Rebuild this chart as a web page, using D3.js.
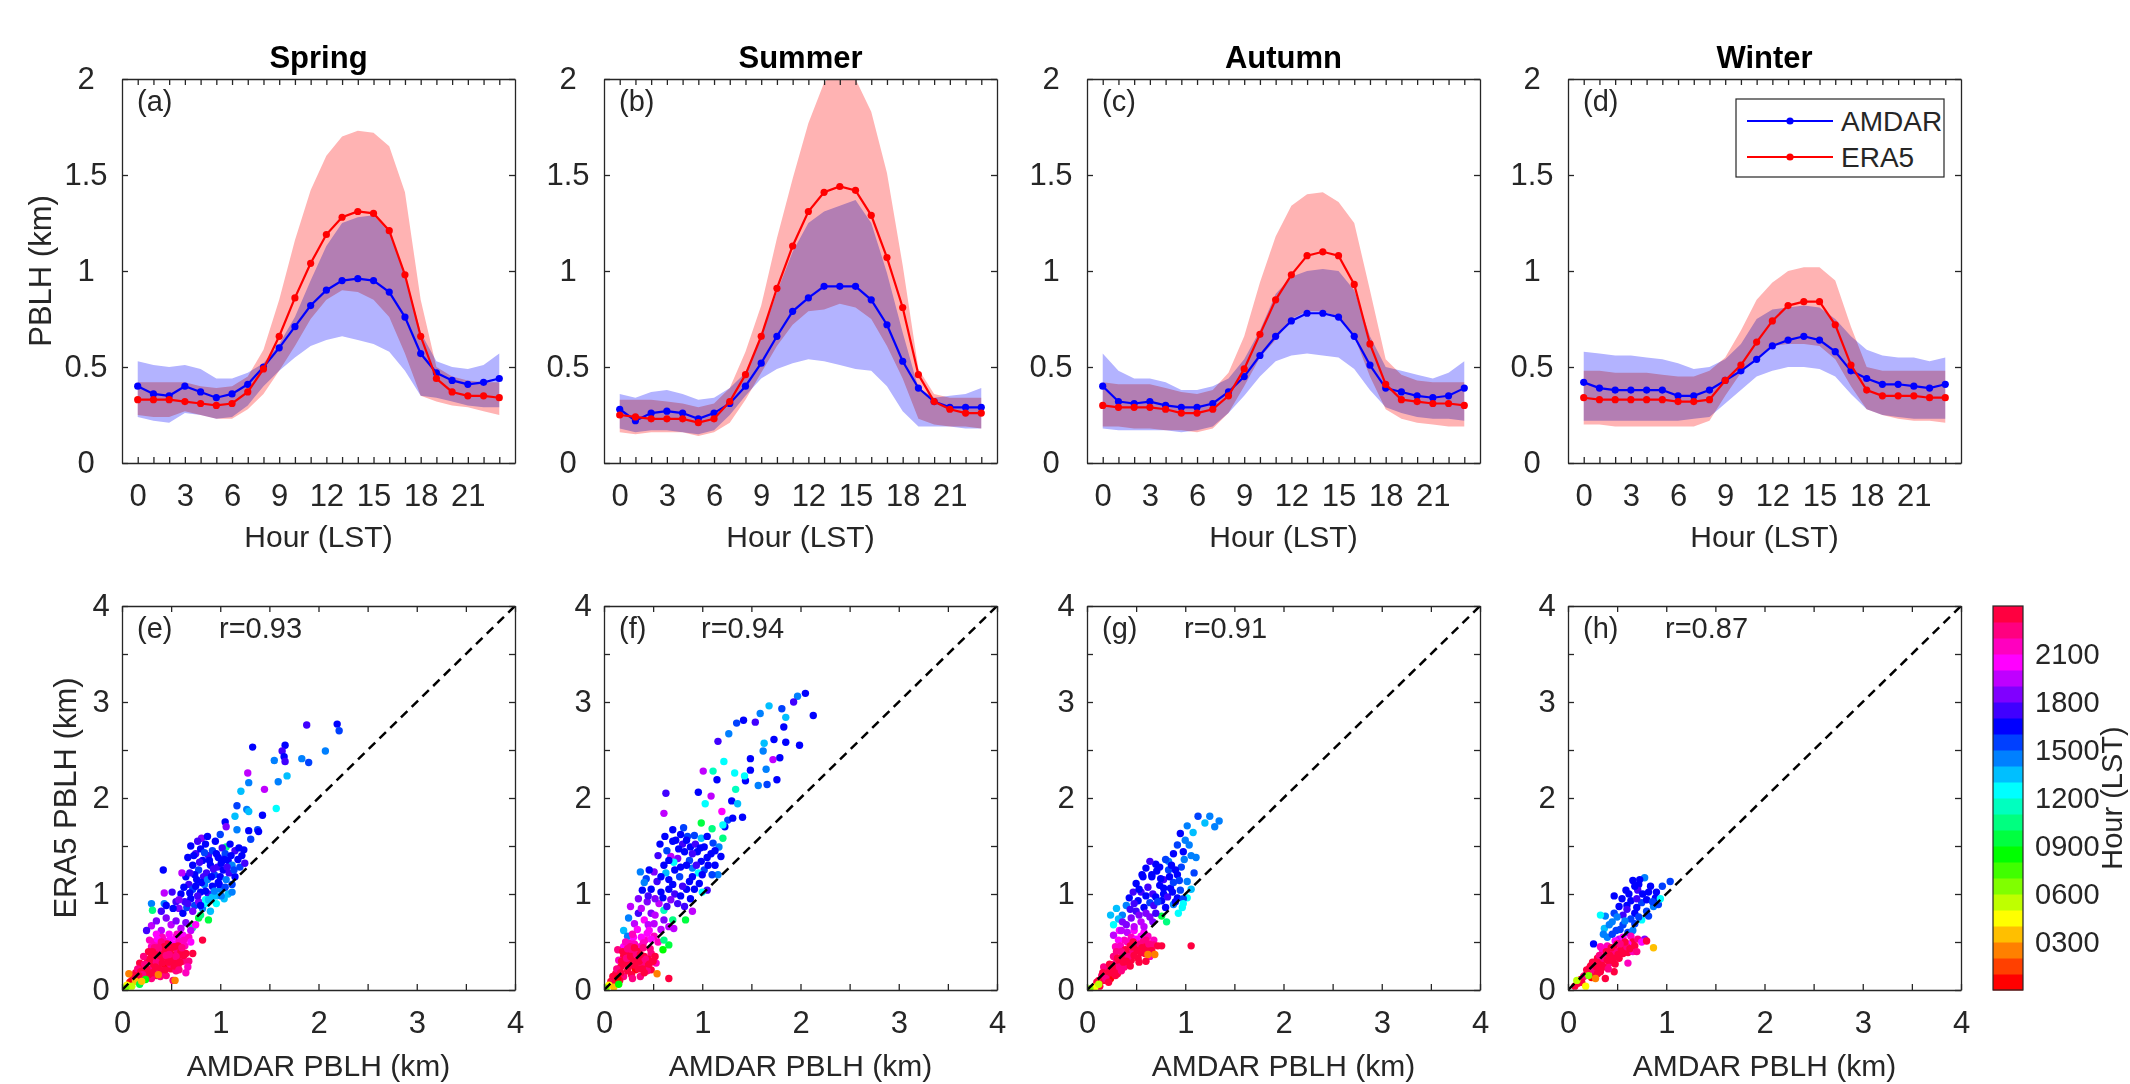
<!DOCTYPE html>
<html>
<head>
<meta charset="utf-8">
<script src="https://cdn.jsdelivr.net/npm/d3@7"></script>
<style>
body { margin: 0; background: #fff; }
text { font-family: "Liberation Sans", Arial, Helvetica, sans-serif; fill: #262626; }
</style>
</head>
<body>
<svg id="fig" width="2130" height="1084"></svg>
<script>
// ---- data ----
const hours = d3.range(24);
const seasons = ["Spring", "Summer", "Autumn", "Winter"];
const topTags = ["(a)", "(b)", "(c)", "(d)"];
const botTags = ["(e)", "(f)", "(g)", "(h)"];
const rText = ["r=0.93", "r=0.94", "r=0.91", "r=0.87"];
const seriesNames = ["AMDAR", "ERA5"];
const cbTicks = [300, 600, 900, 1200, 1500, 1800, 2100];

// diurnal means and spread bands, one row per season (spring, summer, autumn, winter)
const amdarMean = [
  [0.40,0.36,0.35,0.40,0.37,0.34,0.36,0.41,0.50,0.60,0.71,0.82,0.90,0.95,0.96,0.95,0.89,0.76,0.57,0.47,0.43,0.41,0.42,0.44],
  [0.28,0.22,0.26,0.27,0.26,0.23,0.26,0.31,0.40,0.52,0.66,0.79,0.86,0.92,0.92,0.92,0.85,0.72,0.53,0.39,0.32,0.29,0.29,0.29],
  [0.40,0.32,0.31,0.32,0.30,0.29,0.29,0.31,0.37,0.45,0.56,0.66,0.74,0.78,0.78,0.76,0.66,0.51,0.39,0.37,0.35,0.34,0.35,0.39],
  [0.42,0.39,0.38,0.38,0.38,0.38,0.35,0.35,0.38,0.43,0.48,0.54,0.61,0.64,0.66,0.64,0.58,0.48,0.44,0.41,0.41,0.40,0.39,0.41]
];
const amdarHigh = [
  [0.53,0.51,0.50,0.51,0.49,0.44,0.44,0.47,0.52,0.62,0.76,0.95,1.13,1.25,1.28,1.29,1.20,0.99,0.68,0.53,0.50,0.49,0.51,0.57],
  [0.36,0.34,0.37,0.38,0.36,0.33,0.34,0.39,0.47,0.66,0.89,1.10,1.25,1.31,1.34,1.37,1.25,0.99,0.68,0.39,0.34,0.35,0.36,0.39],
  [0.57,0.48,0.44,0.44,0.42,0.38,0.38,0.40,0.44,0.54,0.69,0.88,0.97,1.00,1.01,1.00,0.90,0.66,0.50,0.48,0.46,0.44,0.47,0.53],
  [0.58,0.57,0.56,0.56,0.55,0.54,0.52,0.49,0.50,0.54,0.62,0.75,0.80,0.81,0.82,0.81,0.75,0.66,0.59,0.56,0.55,0.55,0.53,0.55]
];
const amdarLow = [
  [0.24,0.22,0.21,0.26,0.25,0.23,0.24,0.30,0.40,0.48,0.55,0.61,0.64,0.66,0.64,0.62,0.58,0.48,0.35,0.34,0.32,0.30,0.29,0.29],
  [0.18,0.16,0.17,0.17,0.16,0.15,0.17,0.25,0.35,0.44,0.49,0.52,0.54,0.53,0.51,0.49,0.48,0.40,0.27,0.19,0.19,0.19,0.18,0.18],
  [0.18,0.17,0.17,0.17,0.17,0.16,0.17,0.19,0.26,0.35,0.45,0.53,0.56,0.57,0.56,0.55,0.49,0.38,0.29,0.26,0.24,0.23,0.23,0.22],
  [0.22,0.22,0.22,0.22,0.22,0.22,0.22,0.23,0.24,0.31,0.38,0.45,0.48,0.50,0.50,0.49,0.45,0.36,0.28,0.25,0.24,0.23,0.23,0.23]
];
const era5Mean = [
  [0.33,0.33,0.33,0.32,0.31,0.30,0.31,0.37,0.49,0.66,0.86,1.04,1.19,1.28,1.31,1.30,1.21,0.98,0.66,0.44,0.37,0.35,0.35,0.34],
  [0.25,0.24,0.23,0.23,0.23,0.21,0.23,0.32,0.46,0.66,0.91,1.13,1.31,1.41,1.44,1.42,1.29,1.07,0.81,0.46,0.32,0.28,0.26,0.26],
  [0.30,0.29,0.29,0.29,0.28,0.26,0.26,0.28,0.35,0.49,0.67,0.85,0.98,1.08,1.10,1.08,0.93,0.62,0.41,0.33,0.32,0.31,0.31,0.30],
  [0.34,0.33,0.33,0.33,0.33,0.33,0.32,0.32,0.33,0.43,0.51,0.63,0.74,0.82,0.84,0.84,0.72,0.51,0.38,0.35,0.35,0.35,0.34,0.34]
];
const era5High = [
  [0.42,0.42,0.42,0.42,0.40,0.39,0.40,0.45,0.59,0.85,1.16,1.42,1.60,1.70,1.73,1.72,1.65,1.41,0.85,0.50,0.45,0.43,0.42,0.42],
  [0.33,0.33,0.33,0.32,0.31,0.29,0.31,0.39,0.58,0.82,1.17,1.48,1.77,1.98,2.07,2.00,1.83,1.51,1.03,0.49,0.36,0.34,0.34,0.34],
  [0.42,0.41,0.41,0.41,0.39,0.37,0.36,0.38,0.47,0.66,0.94,1.18,1.34,1.40,1.41,1.36,1.25,0.90,0.54,0.46,0.43,0.42,0.42,0.42],
  [0.48,0.48,0.47,0.47,0.47,0.46,0.45,0.45,0.48,0.55,0.69,0.85,0.94,1.00,1.02,1.02,0.95,0.71,0.50,0.48,0.48,0.48,0.48,0.48]
];
const era5Low = [
  [0.25,0.24,0.24,0.27,0.25,0.23,0.23,0.28,0.36,0.48,0.61,0.75,0.85,0.90,0.89,0.85,0.76,0.57,0.35,0.32,0.30,0.29,0.27,0.25],
  [0.16,0.15,0.16,0.16,0.16,0.14,0.16,0.21,0.33,0.47,0.61,0.72,0.79,0.80,0.83,0.81,0.75,0.61,0.44,0.23,0.20,0.19,0.19,0.18],
  [0.19,0.19,0.18,0.18,0.17,0.17,0.16,0.18,0.26,0.40,0.55,0.64,0.75,0.79,0.79,0.76,0.66,0.45,0.28,0.23,0.21,0.20,0.19,0.19],
  [0.20,0.20,0.19,0.19,0.19,0.19,0.19,0.19,0.22,0.35,0.47,0.54,0.61,0.62,0.62,0.61,0.54,0.40,0.28,0.25,0.23,0.22,0.22,0.21]
];

// scatter points: [AMDAR PBLH, ERA5 PBLH, hour]
const scatterSpring = [
  [1.88,2.76,17],[2.19,2.77,16],[2.21,2.70,15],[1.33,2.53,16],[1.66,2.55,16],[1.63,2.49,17],[1.65,2.43,16],[1.66,2.38,17],
  [1.55,2.39,14],[1.83,2.41,14],[1.90,2.37,15],[2.07,2.49,14],[1.28,2.26,19],[1.29,2.16,14],[1.45,2.09,19],[1.59,2.17,14],
  [1.68,2.23,13],[1.21,2.07,13],[1.17,1.92,15],[1.27,1.88,14],[1.29,1.86,13],[1.57,1.89,12],[1.43,1.82,16],[1.15,1.81,13],
  [1.05,1.75,16],[1.06,1.70,18],[1.17,1.67,14],[1.29,1.66,16],[1.38,1.67,15],[1.39,1.65,16],[1.31,1.57,15],[0.81,1.58,18],
  [1.06,1.49,10],
  [0.70,1.50,16],[0.75,1.42,17],[0.80,1.47,16],[0.85,1.52,16],[0.88,1.40,17],[0.92,1.45,15],[0.95,1.55,16],[0.98,1.38,16],
  [1.02,1.48,17],[1.05,1.42,15],[1.08,1.35,16],[1.10,1.52,16],[1.12,1.30,14],[1.15,1.45,17],[1.18,1.36,16],[1.20,1.28,15],
  [1.22,1.40,16],[1.25,1.32,17],[0.72,1.30,16],[0.78,1.25,15],[0.82,1.35,16],[0.86,1.22,17],[0.90,1.30,16],[0.94,1.20,15],
  [0.97,1.28,17],[1.00,1.18,16],[1.03,1.25,16],[1.06,1.15,14],[1.09,1.22,17],[1.12,1.10,15],[1.15,1.18,16],[0.65,1.18,16],
  [0.68,1.10,17],[0.72,1.05,15],[0.76,1.15,16],[0.80,1.02,16],[0.84,1.10,14],[0.88,1.00,17],[0.92,1.08,16],[0.96,0.98,13],
  [1.00,1.05,14],[1.04,0.95,13],[0.60,1.00,16],[0.64,0.92,17],[0.70,0.95,16],[0.74,0.88,15],[0.78,0.92,18],[0.82,0.85,14],
  [0.86,0.90,12],[0.90,0.82,13],[0.55,0.92,17],[0.58,0.85,18],[0.62,0.80,16],[0.66,0.86,15],[1.08,1.00,13],[1.12,1.02,14],
  [0.85,0.94,12],[0.92,0.97,13],[0.42,1.25,16],[0.61,1.22,19],[0.51,1.02,17],[0.43,1.01,19],[0.30,0.90,14],[0.43,0.90,14],
  [0.31,0.83,10],[0.98,1.12,16],[0.74,1.20,16],[0.83,1.18,17],[0.67,1.38,16],[0.87,1.60,16],[1.00,1.62,15],[0.77,1.55,17],
  [0.73,1.40,16],[0.79,1.33,17],[0.84,1.43,15],[0.89,1.35,16],[0.93,1.26,17],[0.96,1.42,16],[1.01,1.32,16],[1.04,1.36,16],
  [1.07,1.28,17],[1.11,1.40,16],[1.14,1.25,15],[1.19,1.48,16],[1.24,1.46,16],[0.69,1.22,17],[0.75,1.08,16],[0.81,1.12,16],
  [0.87,1.15,14],[0.91,1.18,16],[0.99,1.10,16],[1.05,1.07,15],[0.63,1.07,16],[0.69,1.01,16],[0.77,0.98,17],[0.85,1.03,16],
  [0.94,1.03,14],[0.58,0.94,18],[0.67,0.90,17],[0.72,0.82,18],[0.80,0.88,16],[0.88,0.94,13],[0.96,0.90,12],[1.01,0.98,14],
  [0.78,0.75,9],[0.88,0.73,9],[0.60,0.55,9],[0.72,0.65,10],[0.80,0.78,10],
  [0.30,0.67,19],[0.35,0.72,18],[0.40,0.62,19],[0.45,0.75,18],[0.50,0.68,19],[0.55,0.72,18],[0.60,0.64,19],[0.65,0.70,18],
  [0.70,0.62,19],[0.75,0.68,20],[0.48,0.58,20],[0.55,0.55,20],[0.62,0.57,20],[0.68,0.55,21],[0.42,0.52,21],[0.35,0.58,20],
  [0.28,0.52,21],[0.25,0.62,17],[0.40,0.82,17],[0.52,0.85,16],[0.45,0.88,16],
  [0.30,0.45,21],[0.38,0.48,21],[0.45,0.50,21],[0.52,0.48,20],[0.58,0.50,21],[0.64,0.46,21],[0.70,0.50,20],
  [0.33,0.50,21],[0.41,0.55,21],[0.49,0.53,20],[0.56,0.58,21],[0.63,0.52,21],[0.36,0.53,20],
  [0.10,0.10,23],[0.14,0.18,23],[0.18,0.12,22],[0.20,0.25,23],[0.24,0.18,0],[0.26,0.30,23],[0.28,0.22,22],[0.30,0.35,23],
  [0.32,0.27,23],[0.34,0.20,22],[0.36,0.38,23],[0.38,0.30,23],[0.40,0.42,22],[0.42,0.34,23],[0.44,0.26,0],[0.46,0.40,23],
  [0.48,0.32,23],[0.50,0.44,22],[0.52,0.36,23],[0.54,0.28,23],[0.56,0.42,22],[0.58,0.34,23],[0.60,0.40,23],[0.62,0.30,22],
  [0.22,0.35,22],[0.18,0.28,23],[0.16,0.22,22],[0.12,0.15,23],[0.08,0.08,0],[0.35,0.15,23],[0.40,0.20,23],[0.45,0.15,22],
  [0.50,0.22,23],[0.55,0.20,22],[0.65,0.38,23],[0.68,0.30,22],[0.52,0.10,22],[0.65,0.18,21],[0.30,0.12,22],[0.46,0.48,23],
  [0.40,0.50,22],[0.33,0.44,22],[0.27,0.40,23],[0.24,0.12,23],[0.67,0.24,21],[0.72,0.38,23],[0.82,0.52,23],[0.43,0.38,23],
  [0.37,0.25,23],[0.31,0.18,23],[0.49,0.27,22],[0.57,0.25,23],
  [0.15,0.12,23],[0.19,0.19,23],[0.23,0.27,22],[0.27,0.16,23],[0.29,0.33,23],[0.33,0.36,23],[0.35,0.29,22],[0.39,0.36,23],
  [0.41,0.28,23],[0.43,0.45,23],[0.45,0.36,22],[0.47,0.29,23],[0.49,0.41,23],[0.51,0.31,23],[0.53,0.45,23],[0.55,0.35,22],
  [0.57,0.46,23],[0.59,0.29,23],[0.61,0.44,22],[0.63,0.36,23],[0.37,0.44,22],[0.31,0.40,23],[0.25,0.22,23],[0.21,0.16,22],
  [0.13,0.11,23],[0.17,0.15,23],[0.34,0.24,23],[0.39,0.14,22],[0.44,0.21,23],[0.48,0.37,22],[0.53,0.25,23],[0.58,0.21,22],
  [0.07,0.17,2],[0.37,0.16,2],[0.24,0.11,8],[0.14,0.09,3],[0.54,0.10,2],[0.05,0.05,4],[0.10,0.04,5],[0.18,0.06,9],
  [0.04,0.02,6],[0.20,0.09,3]
];
const scatterSummer = [
  [2.05,3.09,16],[1.97,3.06,14],[1.93,3.00,17],[2.13,2.86,16],[1.81,2.93,15],[1.85,2.84,13],[1.68,2.96,13],[1.59,2.88,14],
  [1.42,2.81,16],[1.35,2.78,15],[1.54,2.79,17],[1.27,2.67,14],[1.83,2.74,16],[1.85,2.58,16],[1.99,2.55,16],[1.73,2.61,16],
  [1.63,2.57,13],[1.16,2.59,17],[1.62,2.49,14],[1.49,2.41,16],[1.72,2.40,19],[1.79,2.42,16],[1.65,2.30,14],[1.49,2.29,16],
  [1.44,2.18,16],[1.57,2.13,14],[1.66,2.14,15],[1.76,2.19,16],[1.01,2.28,19],[1.11,2.28,11],[1.22,2.38,12],[1.15,2.19,16],
  [1.33,2.26,12],[1.43,2.23,12],[1.34,2.09,11],[0.96,2.06,16],[1.09,2.02,19],[0.63,2.05,17],[1.03,1.94,12],[1.30,1.97,16],
  [1.36,1.94,13],[1.20,1.86,20],[0.61,1.84,19],[1.26,1.77,15],[1.31,1.79,16],[1.41,1.80,16],[1.23,1.70,16],[1.21,1.72,12],
  [0.99,1.74,9],[1.10,1.68,10],
  [0.70,1.67,16],[0.81,1.69,15],[0.57,1.52,16],[0.70,1.55,16],[0.73,1.56,16],[0.85,1.60,15],[0.92,1.61,15],[0.99,1.58,13],
  [0.88,1.49,16],[0.82,1.44,16],[0.95,1.44,16],[1.02,1.49,16],[1.09,1.42,16],[1.11,1.53,15],[1.17,1.49,14],[1.21,1.58,10],
  [1.19,1.39,16],[0.75,1.37,18],[0.87,1.35,15],[0.99,1.34,16],[0.61,1.30,16],[0.68,1.39,19],[0.78,1.28,16],[0.90,1.27,14],
  [1.02,1.25,15],[1.16,1.20,14],[0.51,1.23,18],[0.37,1.23,14],[0.43,1.16,15],[0.54,1.13,17],[0.66,1.15,16],[0.77,1.18,15],
  [0.87,1.13,16],[0.97,1.11,16],[1.05,1.04,17],[0.63,1.22,13],[0.71,1.33,12],[0.93,1.52,17],[1.05,1.60,16],[0.80,1.52,17],
  [0.64,1.45,15],[1.13,1.30,16],[0.96,1.22,12],[0.84,1.05,16],[0.72,1.00,17],[0.58,1.02,16],[0.48,1.05,16],
  [0.76,1.47,16],[0.84,1.56,16],[0.90,1.42,17],[0.98,1.48,16],[1.05,1.38,16],[1.13,1.45,16],[0.66,1.35,16],[0.72,1.25,16],
  [0.84,1.30,16],[0.94,1.30,17],[1.06,1.30,16],[1.10,1.20,15],[0.58,1.18,16],[0.70,1.10,16],[0.80,1.08,17],[0.90,1.18,16],
  [1.00,1.20,16],[0.55,1.40,17],[0.62,1.60,16],[0.78,1.62,16],[0.66,1.05,16],[0.92,1.05,16],[1.00,1.02,12],[0.46,1.25,16],
  [0.41,1.12,14],
  [0.27,0.87,19],[0.39,1.04,16],[0.44,0.92,18],[0.56,0.90,19],[0.68,0.94,18],[0.82,0.87,17],[0.90,0.82,19],[0.71,0.64,19],
  [0.31,0.69,19],[0.41,0.73,20],[0.51,0.69,19],[0.61,0.73,18],[0.83,0.73,9],[0.61,0.83,11],[0.70,0.73,10],[0.35,0.80,17],
  [0.48,0.80,18],[0.25,0.75,14],[0.20,0.62,13],
  [0.35,0.95,18],[0.45,0.98,17],[0.52,0.95,18],[0.60,0.96,16],[0.64,0.87,17],[0.75,0.90,17],[0.78,0.98,16],[0.88,0.95,16],
  [0.38,0.85,19],[0.52,0.78,19],[0.58,0.63,19],[0.66,0.66,19],[0.45,0.68,19],
  [0.34,0.63,20],[0.44,0.59,20],[0.51,0.56,21],[0.27,0.49,21],[0.37,0.45,21],[0.24,0.56,14],[0.30,0.55,20],[0.42,0.52,21],
  [0.55,0.50,21],[0.20,0.45,20],[0.22,0.50,21],[0.29,0.58,21],[0.38,0.55,20],[0.46,0.62,20],[0.31,0.48,21],[0.40,0.49,21],
  [0.48,0.53,20],
  [0.14,0.42,22],[0.20,0.35,23],[0.29,0.38,22],[0.34,0.31,23],[0.41,0.35,23],[0.48,0.38,22],[0.17,0.24,23],[0.26,0.28,23],
  [0.32,0.21,0],[0.43,0.26,23],[0.12,0.17,23],[0.20,0.14,22],[0.07,0.09,23],[0.37,0.14,22],[0.53,0.28,21],[0.27,0.45,22],
  [0.66,0.12,23],[0.48,0.21,23],[0.15,0.31,21],[0.24,0.20,23],[0.30,0.30,23],[0.38,0.27,22],[0.45,0.32,23],[0.10,0.12,22],
  [0.18,0.30,23],[0.22,0.38,23],[0.35,0.40,23],[0.40,0.44,22],[0.28,0.16,23],[0.16,0.10,23],[0.44,0.20,22],[0.52,0.35,23],
  [0.09,0.14,23],[0.13,0.22,22],[0.17,0.18,23],[0.21,0.27,23],[0.23,0.33,22],[0.25,0.24,23],[0.27,0.35,23],[0.31,0.26,23],
  [0.33,0.37,22],[0.36,0.30,23],[0.39,0.22,23],[0.42,0.32,22],[0.46,0.27,23],[0.50,0.30,23],[0.19,0.40,23],[0.24,0.43,22],
  [0.31,0.44,23],[0.37,0.37,23],[0.11,0.07,23],[0.14,0.12,0],[0.41,0.18,23],[0.29,0.12,22],[0.35,0.22,23],[0.47,0.43,22],
  [0.66,0.47,9],[0.61,0.52,10],[0.60,0.42,8],
  [0.54,0.17,2],[0.05,0.05,4],[0.10,0.03,3],[0.02,0.02,6],[0.15,0.06,8]
];
const scatterAutumn = [
  [1.345,1.76,14],[1.25,1.81,14],[1.13,1.81,15],[1.20,1.74,13],[1.30,1.70,14],[1.02,1.71,14],[0.95,1.63,16],[1.08,1.64,13],
  [0.92,1.51,15],[1.04,1.51,14],[1.11,1.38,14],[0.83,1.34,14],[1.09,1.22,15],[0.98,1.44,16],[0.88,1.42,16],
  [0.60,1.27,16],[0.71,1.24,16],[0.83,1.25,15],[0.92,1.20,16],[1.02,1.13,14],[0.50,1.11,16],[0.62,1.07,17],[0.74,1.09,16],
  [0.85,1.06,16],[0.95,1.04,15],[1.02,0.96,12],[0.43,0.96,16],[0.52,0.93,16],[0.64,0.91,15],[0.76,0.93,16],[0.88,0.89,14],
  [0.97,0.86,12],[0.78,1.00,16],[0.67,1.00,17],[0.55,1.02,17],[0.92,0.96,16],[0.66,1.18,16],[0.78,1.15,17],[0.88,1.12,15],
  [0.56,1.20,16],[0.70,1.31,16],[0.80,1.36,15],[0.47,1.02,17],
  [0.57,1.18,16],[0.66,1.20,16],[0.75,1.16,16],[0.84,1.18,16],[0.94,1.14,15],[0.53,1.05,16],[0.60,0.98,16],[0.70,0.97,16],
  [0.82,0.97,17],[0.87,1.02,16],[0.98,0.95,15],[0.48,0.90,17],[0.58,0.86,16],[0.68,0.88,17],[0.80,0.86,16],[0.74,1.28,16],
  [0.64,1.34,17],[0.86,1.30,16],[0.96,1.28,15],[0.99,1.36,14],[1.06,1.40,14],[1.00,1.56,14],[0.90,1.25,16],[0.78,1.06,16],
  [0.90,0.92,16],[0.72,0.92,15],
  [0.24,0.78,13],[0.27,0.68,12],[0.36,0.78,14],[0.30,0.85,13],[0.32,0.74,13],[0.40,0.88,14],[0.93,0.80,12],[0.98,0.90,12],
  [1.06,1.05,13],
  [0.76,0.77,9],[0.81,0.71,10],
  [0.36,0.71,18],[0.45,0.75,18],[0.55,0.71,19],[0.67,0.71,18],[0.50,0.82,17],[0.41,0.60,19],[0.27,0.57,19],[0.60,0.80,18],
  [0.33,0.62,20],[0.48,0.62,20],[0.58,0.60,20],[0.40,0.68,18],[0.48,0.66,19],[0.58,0.66,19],[0.64,0.76,18],[0.44,0.84,17],
  [0.53,0.78,18],[0.70,0.80,17],[0.35,0.62,19],
  [0.38,0.52,21],[0.45,0.55,21],[0.55,0.56,20],[0.62,0.56,21],[0.32,0.52,20],[0.68,0.52,21],[0.29,0.45,21],
  [0.17,0.10,23],[0.22,0.21,23],[0.29,0.28,22],[0.36,0.35,23],[0.43,0.42,22],[0.50,0.46,23],[0.57,0.50,22],[0.62,0.44,23],
  [0.55,0.39,23],[0.45,0.31,23],[0.38,0.24,22],[0.31,0.17,23],[0.24,0.12,0],[0.13,0.04,23],[0.64,0.35,21],[0.41,0.50,21],
  [0.50,0.53,20],[0.34,0.46,21],[0.27,0.35,22],[0.17,0.24,22],[0.76,0.46,23],[1.06,0.46,23],[0.20,0.15,23],[0.26,0.24,23],
  [0.33,0.30,23],[0.40,0.38,23],[0.47,0.40,22],[0.52,0.33,23],[0.58,0.45,23],[0.35,0.20,22],[0.44,0.46,23],[0.30,0.40,22],
  [0.10,0.08,23],[0.15,0.15,22],[0.60,0.30,23],[0.68,0.47,22],
  [0.12,0.10,23],[0.16,0.18,23],[0.19,0.12,22],[0.23,0.27,23],[0.25,0.18,23],[0.28,0.22,23],[0.31,0.33,23],[0.33,0.24,22],
  [0.37,0.29,23],[0.39,0.42,23],[0.42,0.35,22],[0.46,0.45,23],[0.48,0.36,23],[0.51,0.41,23],[0.54,0.48,22],[0.56,0.44,23],
  [0.59,0.38,23],[0.63,0.48,22],[0.66,0.41,23],[0.47,0.50,23],[0.40,0.30,23],[0.29,0.15,23],[0.22,0.08,23],[0.35,0.40,22],
  [0.53,0.29,23],[0.44,0.25,23],[0.72,0.46,23],[0.60,0.52,22],
  [0.69,0.37,2],[0.62,0.37,2],[0.08,0.03,4],[0.03,0.01,6],[0.12,0.06,5]
];
const scatterWinter = [
  [0.78,1.17,14],[0.66,1.14,16],[1.04,1.13,15],[0.72,1.10,16],[0.84,1.08,16],
  [0.47,0.98,16],[0.59,1.04,16],[0.71,1.04,17],[0.82,1.02,16],[0.89,0.96,16],[0.64,0.93,16],[0.75,0.91,15],[0.87,0.87,14],
  [0.52,0.87,16],[0.56,0.78,17],[0.68,0.80,16],[0.80,0.82,15],[0.92,0.89,15],[0.38,0.77,14],[0.33,0.78,12],[0.45,0.71,14],
  [0.56,0.68,15],[0.68,0.69,15],[0.75,0.73,12],[0.49,0.62,15],[0.61,0.60,15],[0.26,0.48,16],[0.40,0.55,14],[0.52,0.53,19],
  [0.78,0.53,18],[0.60,0.88,16],[0.70,0.95,17],[0.47,0.80,15],[0.37,0.64,13],
  [0.55,0.95,16],[0.62,1.00,16],[0.68,1.08,16],[0.76,1.00,16],[0.80,0.94,16],[0.86,0.92,15],[0.90,1.02,16],[0.70,0.86,16],
  [0.60,0.84,17],[0.64,0.74,15],[0.72,0.76,15],[0.82,0.77,15],[0.50,0.76,14],[0.58,0.72,14],[0.42,0.68,14],[0.53,0.63,15],
  [0.66,0.62,14],[0.45,0.58,15],[0.36,0.58,14],[0.73,1.15,16],[0.96,1.08,15],[0.94,0.95,12],
  [0.40,0.46,21],[0.48,0.51,20],[0.56,0.55,20],[0.64,0.56,21],[0.33,0.45,21],
  [0.19,0.21,23],[0.28,0.28,22],[0.38,0.35,23],[0.47,0.42,23],[0.56,0.46,22],[0.66,0.50,23],[0.71,0.53,22],[0.61,0.39,23],
  [0.52,0.33,23],[0.42,0.28,22],[0.33,0.19,23],[0.24,0.13,0],[0.14,0.08,23],[0.07,0.04,23],[0.45,0.37,21],[0.35,0.42,21],
  [0.66,0.40,21],[0.75,0.50,20],[0.61,0.28,21],[0.47,0.19,23],[0.80,0.51,23],[0.61,0.48,20],[0.38,0.12,23],[0.23,0.25,23],
  [0.30,0.33,23],[0.42,0.40,22],[0.50,0.48,23],[0.56,0.38,23],[0.36,0.24,23],[0.16,0.14,22],[0.28,0.18,23],[0.44,0.31,23],
  [0.10,0.07,23],[0.13,0.11,23],[0.17,0.15,22],[0.20,0.18,23],[0.22,0.23,23],[0.26,0.21,22],[0.29,0.24,23],[0.31,0.30,23],
  [0.34,0.27,23],[0.36,0.33,22],[0.40,0.31,23],[0.43,0.36,23],[0.46,0.33,23],[0.49,0.40,22],[0.51,0.37,23],[0.54,0.43,23],
  [0.57,0.41,23],[0.60,0.45,22],[0.63,0.43,23],[0.58,0.50,23],[0.53,0.48,22],[0.44,0.44,23],[0.39,0.40,23],[0.32,0.36,22],
  [0.25,0.29,23],[0.48,0.27,23],[0.41,0.22,22],[0.30,0.17,23],[0.68,0.46,23],[0.70,0.40,22],
  [0.87,0.44,3],[0.28,0.12,2],[0.18,0.04,4],[0.09,0.10,5],[0.21,0.15,6]
];
const scatterData = [scatterSpring, scatterSummer, scatterAutumn, scatterWinter];

// ---- layout ----
const svg = d3.select("#fig");
const colX = [122, 604, 1087, 1568];
const PW = 393, PH = 384, topY = 79, botY = 606;
const ink = "#262626";
const hourColor = h => d3.hsl(h * 15, 1, 0.5).toString();

function frame(g, x, y, xTicks, xFmt, yTicks, yFmt, yLabX) {
  const tk = 6;
  g.append("g").attr("transform", `translate(0,${PH})`)
    .call(d3.axisBottom(x).tickValues(xTicks).tickSize(-tk).tickSizeOuter(0).tickPadding(21).tickFormat(xFmt));
  g.append("g")
    .call(d3.axisTop(x).tickValues(xTicks).tickSize(-tk).tickSizeOuter(0).tickFormat(""));
  const yl = g.append("g")
    .call(d3.axisLeft(y).tickValues(yTicks).tickSize(-tk).tickSizeOuter(0).tickFormat(yFmt));
  yl.selectAll("text").attr("x", yLabX).attr("text-anchor", "middle");
  g.append("g").attr("transform", `translate(${PW},0)`)
    .call(d3.axisRight(y).tickValues(yTicks).tickSize(-tk).tickSizeOuter(0).tickFormat(""));
  g.selectAll(".domain, .tick line").attr("stroke", ink).attr("stroke-width", 1.3);
  g.selectAll(".tick text").attr("font-size", 31);
}

// ---- top row: diurnal cycles ----
seasons.forEach((s, i) => {
  const g = svg.append("g").attr("transform", `translate(${colX[i]},${topY})`);
  const x = d3.scaleLinear().domain([-1, 24]).range([0, PW]);
  const y = d3.scaleLinear().domain([0, 2]).range([PH, 0]);

  g.append("clipPath").attr("id", "clipTop" + i)
    .append("rect").attr("width", PW).attr("height", PH);
  const plot = g.append("g").attr("clip-path", `url(#clipTop${i})`);

  const band = (lo, hi) => d3.area()
    .x(h => x(h)).y0(h => y(lo[i][h])).y1(h => y(hi[i][h]));
  plot.append("path").attr("d", band(amdarLow, amdarHigh)(hours))
    .attr("fill", "#b3b3ff").style("mix-blend-mode", "multiply");
  plot.append("path").attr("d", band(era5Low, era5High)(hours))
    .attr("fill", "#ffb3b3").style("mix-blend-mode", "multiply");

  [[amdarMean, "#0000ff"], [era5Mean, "#ff0000"]].forEach(([arr, c]) => {
    const line = d3.line().x(h => x(h)).y(h => y(arr[i][h]));
    plot.append("path").attr("d", line(hours)).attr("fill", "none")
      .attr("stroke", c).attr("stroke-width", 2.2);
    plot.selectAll(null).data(hours).join("circle")
      .attr("cx", h => x(h)).attr("cy", h => y(arr[i][h])).attr("r", 3.6).attr("fill", c);
  });

  frame(g, x, y, hours, h => (h % 3 === 0 ? h : ""), [0, 0.5, 1, 1.5, 2], d3.format("~g"), -36);

  g.append("text").attr("x", PW / 2).attr("y", -11).attr("text-anchor", "middle")
    .attr("font-size", 31).attr("font-weight", "bold").style("fill", "#000").text(s);
  g.append("text").attr("x", 15).attr("y", 32).attr("font-size", 29).text(topTags[i]);
  g.append("text").attr("x", PW / 2).attr("y", PH + 84).attr("text-anchor", "middle")
    .attr("font-size", 30).text("Hour (LST)");
  if (i === 0) {
    g.append("text").attr("transform", `translate(-71,${PH / 2}) rotate(-90)`)
      .attr("text-anchor", "middle").attr("font-size", 31).text("PBLH (km)");
  }
  if (i === 3) {
    const lg = g.append("g").attr("transform", `translate(${PW - 225},20)`);
    lg.append("rect").attr("width", 208).attr("height", 78)
      .attr("fill", "#fff").attr("stroke", ink).attr("stroke-width", 1.2);
    seriesNames.forEach((n, k) => {
      const ly = 22 + k * 36, c = k === 0 ? "#0000ff" : "#ff0000";
      lg.append("line").attr("x1", 11).attr("x2", 97).attr("y1", ly).attr("y2", ly)
        .attr("stroke", c).attr("stroke-width", 2.2);
      lg.append("circle").attr("cx", 54).attr("cy", ly).attr("r", 3.6).attr("fill", c);
      lg.append("text").attr("x", 105).attr("y", ly + 10).attr("font-size", 28).text(n);
    });
  }
});

// ---- bottom row: scatter ----
seasons.forEach((s, i) => {
  const g = svg.append("g").attr("transform", `translate(${colX[i]},${botY})`);
  const x = d3.scaleLinear().domain([0, 4]).range([0, PW]);
  const y = d3.scaleLinear().domain([0, 4]).range([PH, 0]);
  g.append("clipPath").attr("id", "clipBot" + i)
    .append("rect").attr("width", PW).attr("height", PH);
  const plot = g.append("g").attr("clip-path", `url(#clipBot${i})`);

  plot.selectAll(null).data(scatterData[i]).join("circle")
    .attr("cx", d => x(d[0])).attr("cy", d => y(d[1])).attr("r", 3.7)
    .attr("fill", d => hourColor(d[2]));
  plot.append("line").attr("x1", x(0)).attr("y1", y(0)).attr("x2", x(4)).attr("y2", y(4))
    .attr("stroke", "#000").attr("stroke-width", 2.5).attr("stroke-dasharray", "9,6");

  const t = d3.range(0, 4.01, 0.5);
  frame(g, x, y, t, d => (d % 1 === 0 ? d : ""), t, d => (d % 1 === 0 ? d : ""), -21);

  g.append("text").attr("x", 15).attr("y", 32).attr("font-size", 29).text(botTags[i]);
  g.append("text").attr("x", 97).attr("y", 32).attr("font-size", 29).text(rText[i]);
  g.append("text").attr("x", PW / 2).attr("y", PH + 86).attr("text-anchor", "middle")
    .attr("font-size", 30).text("AMDAR PBLH (km)");
  if (i === 0) {
    g.append("text").attr("transform", `translate(-46,${PH / 2}) rotate(-90)`)
      .attr("text-anchor", "middle").attr("font-size", 31).text("ERA5 PBLH (km)");
  }
});

// ---- colorbar ----
const cb = svg.append("g").attr("transform", `translate(1993,${botY})`);
const cbW = 30;
const cy = d3.scaleLinear().domain([0, 2400]).range([PH, 0]);
cb.selectAll(null).data(hours).join("rect")
  .attr("x", 0).attr("width", cbW)
  .attr("y", h => cy((h + 1) * 100)).attr("height", h => cy(h * 100) - cy((h + 1) * 100) + 0.5)
  .attr("fill", h => hourColor(h));
cb.append("rect").attr("width", cbW).attr("height", PH)
  .attr("fill", "none").attr("stroke", ink).attr("stroke-width", 1.2);
cb.selectAll(null).data(cbTicks).join("text")
  .attr("x", cbW + 12).attr("y", d => cy(d)).attr("dy", "0.35em")
  .attr("font-size", 29).text(d => d3.format("04d")(d));
cb.append("text").attr("transform", `translate(129,${PH / 2}) rotate(-90)`)
  .attr("text-anchor", "middle").attr("font-size", 29).text("Hour (LST)");
</script>
</body>
</html>
